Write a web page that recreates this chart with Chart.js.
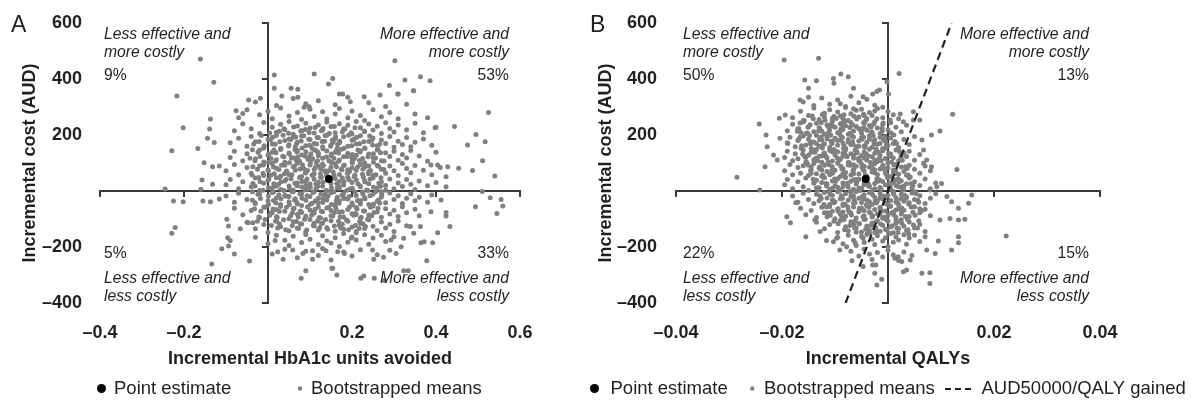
<!DOCTYPE html>
<html>
<head>
<meta charset="utf-8">
<script src="https://cdn.jsdelivr.net/npm/chart.js@4.4.1/dist/chart.umd.min.js"></script>
<style>
  body { margin: 0; background: #fff; width: 1193px; height: 401px; overflow: hidden; position: relative; }
  canvas { position: absolute; top: 0; }
  #chartA { left: 0; }
  #chartB { left: 590px; }
</style>
</head>
<body>
<canvas id="chartA" width="590" height="401"></canvas>
<canvas id="chartB" width="603" height="401"></canvas>
<script>
const FONT = "'Liberation Sans', Arial, Helvetica, sans-serif";
const INK = '#231f20';
const AXIS = '#3a3a3a';
const DOT = '#808080';

// axis ticks
const costTicks = [-400, -200, 0, 200, 400, 600];
const hba1cTicks = [-0.4, -0.2, 0, 0.2, 0.4, 0.6];
const qalyTicks = [-0.04, -0.02, 0, 0.02, 0.04];

// point estimates and threshold line
const pointEstimateA = [[0.145, 43]];
const pointEstimateB = [[-0.0042, 43]];
const wtpLine = [[-0.008, -400], [0.012, 600]];

// quadrant shares: upper-left, upper-right, lower-left, lower-right
const quadrantPctA = ['9%', '53%', '5%', '33%'];
const quadrantPctB = ['50%', '13%', '22%', '15%'];
const quadrantNames = [
  ['Less effective and', 'more costly'],
  ['More effective and', 'more costly'],
  ['Less effective and', 'less costly'],
  ['More effective and', 'less costly']
];

// bootstrapped means, panel A (HbA1c units avoided, cost AUD)
const bootA = [
  [-.161,471],[-.129,388],[-.217,339],[-.202,226],[-.137,257],[-.139,221],[-.144,188],[-.128,173],[-.167,152],[-.229,144],
  [-.152,101],[-.132,87],[-.116,89],[-.157,39],[-.132,24],[-.16,6],[-.245,7],[-.225,-36],[-.202,-38],[-.155,-36],
  [-.137,-38],[-.116,-29],[-.221,-130],[-.229,-151],[-.098,-101],[-.094,-125],[-.096,-167],[-.09,-177],[-.11,-206],[-.094,-196],
  [-.08,-225],[-.134,-261],[-.044,-250],[-.066,-135],[-.047,-113],[-.036,-113],[-.025,-108],[.017,-177],[.023,-217],[.036,-244],
  [.059,-211],[.083,-223],[.106,-213],[.106,-244],[.09,-285],[.079,-312],[.152,-276],[.138,-213],[.015,414],[.015,367],
  [.033,339],[.055,367],[.071,363],[.071,335],[.11,418],[.144,382],[.154,402],[-.018,331],[-.046,325],[-.076,287],[-.06,277],
  [.086,299],[.098,301],[.17,346],[.178,346],[.196,319],[.229,337],[.267,343],[.309,346],[.346,358],
  [.302,465],[.363,408],[.386,394],[.326,396],[.347,358],[.289,377],[.31,346],[.525,280],[.398,226],[.444,230],
  [.495,202],[.517,176],[.475,164],[.511,108],[.54,54],[.487,73],[.454,81],[.428,87],[.404,93],[.388,93],
  [.424,51],[.424,15],[.51,-2],[.529,-24],[.555,-30],[.559,-54],[.545,-80],[.494,-56],[.424,-77],[.424,-89],
  [.433,-127],[.404,-149],[.388,-74],[.412,-32],[.392,-185],[.372,-181],[.364,-185],[.378,-249],[.334,-285],[.323,-285],
  [.277,-320],[.253,-312],[.228,-304],[.221,-312],[.164,-300],[.275,-237],[.305,-223],[.317,-199],[.293,-175],[.249,-211],
  [.252,-244],[.363,-127],[.339,-127],[.347,-151],[.323,-169],[.232,-127],[.21,-145],[.198,-169],[.166,-217],[.182,-223],[.154,-276],
  [-.03,318],[.02,305],[.06,330],[.09,312],[.12,322],[.16,308],[.19,335],[.24,315],[.28,302],[.33,310],
  [-.07,262],[-.05,290],[-.02,272],[0,285],[.01,258],[.03,296],[.05,268],[.07,280],[.08,255],[.1,292],[.11,266],[.13,283],
  [.14,257],[.16,275],[.17,295],[.19,262],[.2,286],[.22,270],[.23,252],[.25,290],[.27,265],[.29,280],[.31,258],[.35,275],[.38,262],
  [-.08,215],[-.06,240],[-.04,222],[-.02,205],[-.01,245],[.01,228],[.02,210],[.03,238],[.04,219],[.05,248],[.06,203],[.07,232],
  [.08,215],[.09,242],[.1,225],[.11,207],[.12,236],[.13,218],[.14,246],[.15,230],[.16,208],[.17,240],[.18,221],[.19,235],
  [.2,204],[.21,248],[.22,226],[.23,212],[.24,239],[.25,218],[.26,231],[.27,205],[.28,244],[.29,223],[.3,211],[.31,236],
  [.33,219],[.35,242],[.37,208],[.4,228],
  [-.09,172],[-.07,188],[-.05,160],[-.04,195],[-.03,176],[-.01,155],[0,185],[.01,168],[.02,198],[.03,152],[.04,180],[.05,165],
  [.06,192],[.065,158],[.07,175],[.08,196],[.09,162],[.1,184],[.105,153],[.11,170],[.12,190],[.13,158],[.135,178],[.14,199],
  [.15,164],[.16,186],[.165,152],[.17,172],[.18,194],[.19,160],[.2,181],[.21,168],[.22,197],[.23,154],[.24,177],[.25,189],
  [.26,162],[.27,182],[.28,170],[.29,195],[.3,156],[.31,178],[.32,166],[.33,191],[.34,158],[.35,174],[.37,186],[.39,163],[.05,186],[.155,174],
  [-.09,120],[-.08,142],[-.06,108],[-.05,133],[-.03,115],[-.02,146],[-.01,104],[0,128],[.01,138],[.02,112],[.03,148],[.035,124],
  [.04,103],[.05,136],[.06,118],[.07,145],[.075,107],[.08,129],[.09,140],[.095,113],[.1,124],[.11,147],[.115,102],[.12,133],
  [.13,117],[.14,143],[.145,108],[.15,126],[.16,138],[.17,111],[.175,149],[.18,122],[.19,135],[.2,105],[.21,128],[.22,144],
  [.225,116],[.23,101],[.24,132],[.25,119],[.26,146],[.27,108],[.28,137],[.29,123],[.3,142],[.31,110],[.32,130],[.33,118],
  [.34,145],[.36,125],[.38,106],[.4,138],[.12,126],[.2,118],[.07,121],
  [-.1,72],[-.08,95],[-.07,58],[-.05,84],[-.04,63],[-.02,90],[-.01,55],[0,76],[.01,98],[.015,62],[.02,81],[.03,53],
  [.04,92],[.045,70],[.05,58],[.06,87],[.065,74],[.07,99],[.08,52],[.085,80],[.09,66],[.1,93],[.105,57],[.11,77],
  [.12,88],[.125,61],[.13,96],[.135,72],[.14,54],[.15,85],[.155,68],[.16,97],[.17,59],[.175,79],[.18,91],[.19,64],
  [.2,83],[.205,52],[.21,74],[.22,95],[.225,60],[.23,86],[.24,70],[.25,56],[.26,92],[.27,78],[.28,63],[.29,89],
  [.3,72],[.31,55],[.32,98],[.33,80],[.34,65],[.35,91],[.37,74],[.39,58],[.41,84],[.19,76],[.11,62],[.24,89],
  [-.1,22],[-.09,41],[-.07,8],[-.06,33],[-.04,15],[-.03,46],[-.02,2],[-.01,28],[0,38],[.01,12],[.02,47],[.025,24],
  [.03,5],[.04,36],[.05,18],[.055,44],[.06,3],[.07,29],[.075,48],[.08,14],[.09,35],[.095,6],[.1,25],[.11,42],
  [.115,10],[.12,31],[.125,49],[.13,17],[.14,2],[.15,27],[.16,45],[.165,12],[.17,34],[.18,21],[.19,48],[.195,7],
  [.2,30],[.21,40],[.22,15],[.23,37],[.235,4],[.24,26],[.25,46],[.26,11],[.27,33],[.28,20],[.29,43],[.3,8],
  [.31,29],[.32,16],[.33,41],[.34,24],[.35,5],[.36,36],[.38,19],[.4,30],[.09,20],[.17,9],[.28,3],
  [-.1,-18],[-.08,-40],[-.07,-8],[-.05,-30],[-.03,-45],[-.02,-12],[0,-35],[.01,-5],[.02,-25],[.03,-48],[.04,-15],[.05,-38],
  [.06,-3],[.065,-28],[.07,-46],[.08,-10],[.09,-33],[.1,-20],[.105,-44],[.11,-2],[.12,-26],[.13,-41],[.135,-13],[.14,-32],
  [.15,-6],[.16,-47],[.165,-22],[.17,-36],[.18,-9],[.19,-29],[.2,-43],[.21,-16],[.22,-34],[.225,-4],[.23,-24],[.24,-48],
  [.25,-12],[.26,-37],[.27,-21],[.28,-42],[.29,-7],[.3,-30],[.31,-17],[.32,-45],[.33,-26],[.34,-10],[.35,-35],[.36,-22],
  [.38,-40],[.39,-14],[.05,-20],[.14,-18],[.22,-46],[.27,-3],[.18,-24],
  [-.08,-62],[-.06,-85],[-.04,-70],[-.02,-95],[-.01,-58],[.01,-78],[.02,-92],[.03,-55],[.04,-72],[.05,-99],[.06,-64],[.07,-83],
  [.08,-52],[.09,-90],[.1,-68],[.11,-79],[.12,-57],[.125,-96],[.13,-74],[.14,-61],[.15,-88],[.16,-53],[.17,-76],[.18,-93],
  [.19,-66],[.2,-81],[.21,-59],[.22,-97],[.23,-71],[.24,-86],[.25,-54],[.26,-75],[.27,-94],[.28,-63],[.29,-82],[.3,-69],
  [.31,-91],[.32,-56],[.33,-78],[.35,-65],[.36,-88],[.15,-70],[.08,-77],[.21,-84],[.02,-66],
  [-.05,-112],[-.03,-135],[-.01,-120],[0,-148],[.02,-105],[.03,-128],[.05,-142],[.06,-110],[.07,-133],[.08,-118],[.09,-146],[.1,-102],
  [.11,-125],[.12,-139],[.13,-114],[.14,-131],[.15,-106],[.16,-144],[.17,-122],[.18,-137],[.19,-108],[.2,-129],[.21,-149],[.22,-116],
  [.23,-134],[.24,-103],[.25,-126],[.26,-141],[.27,-111],[.28,-132],[.29,-119],[.3,-145],[.31,-107],[.33,-124],[.11,-115],
  [-.03,-165],[0,-188],[.02,-158],[.04,-176],[.05,-195],[.06,-162],[.08,-184],[.09,-155],[.1,-172],[.12,-191],[.13,-160],[.14,-179],
  [.16,-167],[.17,-198],[.18,-152],[.19,-183],[.2,-164],[.21,-175],[.23,-156],[.24,-190],[.25,-168],[.27,-158],[.28,-180],[.3,-163],[.15,-186],
  [.01,-225],[.04,-208],[.07,-238],[.09,-215],[.12,-230],[.13,-205],[.15,-246],[.18,-218],[.2,-232],[.22,-210],[.26,-228],[.29,-212],
  [.038,222],[.061,229],[.089,220],[.112,227],[.131,223],[.158,230],[.183,221],[.207,226],
  [.004,207],[.027,213],[.049,206],[.078,214],[.098,209],[.127,215],[.146,205],[.177,212],[.198,208],[.229,214],
  [-.016,198],[.011,192],[.036,199],[.066,193],[.085,197],[.117,191],[.136,198],[.161,194],[.192,199],[.211,192],[.242,196],
  [-.021,177],[.006,183],[.028,176],[.054,184],[.079,179],[.097,185],[.129,177],[.153,182],[.171,178],[.204,184],[.228,176],[.247,181],
  [-.034,168],[-.009,162],[.017,167],[.049,161],[.068,169],[.099,163],[.116,168],[.149,160],[.166,166],[.199,162],[.218,169],[.249,164],[.266,167],
  [-.037,147],[-.011,153],[.014,146],[.031,152],[.064,148],[.081,154],[.114,145],[.131,151],[.164,147],[.181,153],[.214,146],[.231,152],[.262,148],
  [-.024,138],[.002,132],[.019,137],[.051,131],[.069,139],[.102,133],[.119,138],[.151,132],[.168,136],[.201,130],[.219,139],[.251,133],[.268,137],
  [-.043,117],[-.019,123],[.007,116],[.038,122],[.056,118],[.089,124],[.106,115],[.139,121],[.157,117],[.189,123],[.206,116],[.238,122],[.256,118],
  [-.031,108],[.001,102],[.018,107],[.051,101],[.068,109],[.101,103],[.118,108],[.151,102],[.168,106],[.201,100],[.218,109],[.251,103],[.276,107],
  [-.036,87],[-.011,93],[.013,86],[.032,92],[.063,88],[.082,94],[.113,85],[.132,91],[.163,87],[.182,93],[.213,86],[.232,92],[.263,88],
  [-.025,78],[.001,72],[.026,77],[.044,71],[.076,79],[.094,73],[.126,78],[.144,72],[.176,76],[.194,70],[.226,79],[.244,73],[.276,77],
  [-.038,57],[-.012,63],[.007,56],[.039,62],[.057,58],[.089,64],[.107,55],[.139,61],[.157,57],[.189,63],[.207,56],[.239,62],[.257,58],
  [-.022,48],[.002,42],[.027,47],[.043,41],[.077,49],[.093,43],[.127,48],[.143,42],[.177,46],[.193,40],[.227,49],[.243,43],[.269,47],
  [-.036,27],[-.019,33],[.014,26],[.031,32],[.064,28],[.081,34],[.114,25],[.131,31],[.164,27],[.181,33],[.214,26],[.231,32],[.264,28],
  [-.031,18],[.001,12],[.019,17],[.051,11],[.069,19],[.101,13],[.119,18],[.151,12],[.169,16],[.201,10],[.219,19],[.251,13],[.268,17],
  [-.037,-3],[-.012,3],[.013,-4],[.038,2],[.057,-2],[.088,4],[.107,-5],[.138,1],[.157,-3],[.188,3],[.207,-4],[.238,2],[.257,-2],
  [-.024,-12],[.001,-18],[.026,-13],[.043,-19],[.076,-11],[.093,-17],[.126,-12],[.143,-18],[.176,-14],[.193,-20],[.226,-11],[.243,-17],[.271,-13],
  [-.037,-33],[-.018,-27],[.013,-34],[.031,-28],[.063,-32],[.081,-26],[.113,-35],[.131,-29],[.163,-33],[.181,-27],[.213,-34],[.231,-28],[.263,-32],
  [-.031,-42],[.001,-48],[.019,-43],[.051,-49],[.069,-41],[.101,-47],[.119,-42],[.151,-48],[.169,-44],[.201,-50],[.219,-41],[.251,-47],[.266,-43],
  [-.032,-63],[-.006,-57],[.012,-64],[.044,-58],[.062,-62],[.094,-56],[.112,-65],[.144,-59],[.162,-63],[.194,-57],[.212,-64],[.244,-58],[.262,-62],
  [-.017,-72],[.008,-78],[.027,-73],[.058,-79],[.077,-71],[.108,-77],[.127,-72],[.158,-78],[.177,-74],[.208,-80],[.227,-71],[.252,-77],
  [-.022,-93],[.004,-87],[.022,-94],[.054,-88],[.072,-92],[.104,-86],[.122,-95],[.154,-89],[.172,-93],[.204,-87],[.222,-94],[.247,-88],
  [-.007,-102],[.018,-108],[.037,-103],[.068,-109],[.087,-101],[.118,-107],[.137,-102],[.168,-108],[.187,-104],[.218,-110],[.237,-101],
  [.008,-123],[.027,-117],[.058,-124],[.077,-118],[.108,-122],[.127,-116],[.158,-125],[.177,-119],[.208,-123],[.226,-117],
  [.023,-132],[.042,-138],[.073,-133],[.092,-139],[.123,-131],[.142,-137],[.173,-132],[.192,-138],[.217,-134]
];

// bootstrapped means, panel B (QALYs, cost AUD)
const bootB = [
  [-.0196,468],[-.0131,474],[-.0157,396],[-.0135,394],[-.0103,402],[-.0089,418],[-.0075,408],[-.015,367],[-.0102,385],[-.0065,367],
  [-.0029,346],[-.0016,361],[-.0166,325],[-.0047,337],[-.0205,260],[-.0194,271],[-.0243,239],[-.023,200],[-.0228,158],[-.0232,87],
  [-.0216,129],[-.0209,111],[-.0204,188],[-.0189,170],[-.0285,49],[-.0242,4],[-.0174,-42],[-.0191,-92],[-.0184,-113],[-.0155,-163],
  [-.0138,-104],[-.0128,-145],[-.0116,-177],[-.0097,-169],[-.0103,-181],[-.0091,-211],[-.0078,-199],[-.0062,-185],[-.0047,-169],[-.0068,-249],
  [-.0047,-270],[-.0029,-264],[-.0025,-294],[-.0021,-336],
  [.0021,420],[-.0002,390],[.0001,346],[-.0021,355],[-.001,299],[.0004,254],[.0122,274],[.0048,283],[.0023,275],[.0029,247],
  [.0048,254],[.006,254],[.0098,214],[.0082,200],[.0064,182],[.0067,146],[.0073,111],[.0082,87],[.0067,99],[.013,77],
  [.0101,27],[.0092,15],[.0079,4],[.0111,-20],[.012,-38],[.0152,-44],[.0158,-14],[.0133,-62],[.0145,-101],[.0133,-104],
  [.0117,-98],[.0098,-104],[.0223,-161],[.0133,-163],[.0133,-185],[.012,-211],[.0095,-179],[.0089,-223],[.0073,-211],[.0064,-294],
  [.0079,-292],[.0079,-330],[.0042,-246],[.0026,-252],[.0019,-235],[.0013,-240],[.0035,-282],[.0029,-288],[-.0023,-264],[-.0012,-315],
  [-.016,318],[-.014,305],[-.0125,332],[-.011,310],[-.0095,325],[-.008,302],[-.007,338],[-.0055,315],[-.004,328],[-.0025,306],[-.015,335],[-.009,312],
  [-.018,262],[-.0165,285],[-.015,270],[-.014,296],[-.013,255],[-.012,278],[-.011,290],[-.0105,260],[-.0095,282],[-.009,268],
  [-.008,298],[-.0075,252],[-.007,276],[-.006,288],[-.0055,264],[-.005,292],[-.004,258],[-.0035,280],[-.003,270],[-.002,295],
  [-.001,262],[0,284],[.001,272],[.002,258],[-.012,265],[-.0085,258],[-.0045,270],[-.016,252],[-.0065,294],[-.0025,286],
  [-.019,215],[-.018,238],[-.017,222],[-.016,246],[-.0155,205],[-.015,230],[-.014,212],[-.0135,242],[-.013,226],[-.012,204],
  [-.0115,236],[-.011,218],[-.0105,248],[-.01,228],[-.0095,208],[-.009,240],[-.0085,220],[-.008,233],[-.0075,203],[-.007,245],
  [-.0065,214],[-.006,230],[-.0055,222],[-.005,206],[-.0045,241],[-.004,217],[-.0035,234],[-.003,210],[-.0025,247],[-.002,225],
  [-.0015,205],[-.001,238],[0,219],[.0005,244],[.0015,228],[.0025,212],[.0035,235],[-.0125,214],[-.0085,236],[-.0045,225],[-.0105,232],[-.0165,210],
  [-.019,172],[-.0185,192],[-.0175,158],[-.017,180],[-.016,196],[-.0155,164],[-.015,185],[-.0145,152],[-.014,175],[-.0135,198],
  [-.013,160],[-.0125,182],[-.012,168],[-.0115,194],[-.011,155],[-.0105,177],[-.01,188],[-.0095,163],[-.009,199],[-.0085,171],
  [-.008,153],[-.0075,184],[-.007,166],[-.0065,193],[-.006,158],[-.0055,179],[-.005,190],[-.0045,161],[-.004,174],[-.0035,197],
  [-.003,156],[-.0025,183],[-.002,167],[-.0015,192],[-.001,152],[-.0005,178],[0,163],[.0005,189],[.001,170],[.002,155],
  [.003,184],[.004,166],[.005,195],[-.0135,170],[-.0095,180],[-.0055,160],[-.0115,186],[-.0075,174],[-.0035,185],[-.0015,170],
  [-.0195,120],[-.019,142],[-.018,108],[-.0175,133],[-.017,115],[-.016,146],[-.0155,104],[-.015,128],[-.0145,138],[-.014,112],
  [-.0135,148],[-.013,124],[-.0125,103],[-.012,136],[-.0115,118],[-.011,145],[-.0105,107],[-.01,129],[-.0095,140],[-.009,113],
  [-.0085,124],[-.008,147],[-.0075,102],[-.007,133],[-.0065,117],[-.006,143],[-.0055,108],[-.005,126],[-.0045,138],[-.004,111],
  [-.0035,149],[-.003,122],[-.0025,135],[-.002,105],[-.0015,128],[-.001,144],[-.0005,116],[0,101],[.0005,132],[.001,119],
  [.0015,146],[.002,108],[.003,137],[.0035,123],[.004,142],[.005,110],[.006,130],[-.0125,125],[-.0085,135],[-.0045,118],
  [-.0105,140],[-.0065,128],[-.0025,112],[-.0155,120],[.0025,125],
  [-.0195,72],[-.0185,95],[-.018,58],[-.017,84],[-.0165,63],[-.016,90],[-.015,55],[-.0145,76],[-.014,98],[-.0135,62],
  [-.013,81],[-.0125,53],[-.012,92],[-.0115,70],[-.011,58],[-.0105,87],[-.01,74],[-.0095,99],[-.009,52],[-.0085,80],
  [-.008,66],[-.0075,93],[-.007,57],[-.0065,77],[-.006,88],[-.0055,61],[-.005,96],[-.0045,72],[-.004,54],[-.0035,85],
  [-.003,68],[-.0025,97],[-.002,59],[-.0015,79],[-.001,91],[-.0005,64],[0,83],[.0005,52],[.001,74],[.0015,95],
  [.002,60],[.0025,86],[.003,70],[.0035,56],[.004,92],[.005,78],[.006,63],[.007,89],[.008,72],[-.0125,75],
  [-.0085,62],[-.0045,88],[-.0025,76],[-.0065,94],[-.0105,64],[-.0145,86],[.001,66],[-.003,82],
  [-.0195,22],[-.019,41],[-.018,8],[-.017,33],[-.016,15],[-.0155,46],[-.015,2],[-.014,28],[-.0135,38],[-.013,12],
  [-.012,47],[-.0115,24],[-.011,5],[-.0105,36],[-.01,18],[-.0095,44],[-.009,3],[-.0085,29],[-.008,48],[-.0075,14],
  [-.007,35],[-.0065,6],[-.006,25],[-.0055,42],[-.005,10],[-.0045,31],[-.004,49],[-.0035,17],[-.003,2],[-.0025,27],
  [-.002,45],[-.0015,12],[-.001,34],[-.0005,21],[0,48],[.0005,7],[.001,30],[.0015,40],[.002,15],[.0025,37],
  [.003,4],[.0035,26],[.004,46],[.0045,11],[.005,33],[.006,20],[.007,43],[.008,8],[.009,29],[-.0125,30],
  [-.0085,15],[-.0045,22],[-.0065,40],[-.0105,10],[.0015,20],[-.0025,8],[-.0015,38],[.003,18],
  [-.018,-18],[-.017,-40],[-.016,-8],[-.015,-30],[-.014,-45],[-.0135,-12],[-.013,-35],[-.012,-5],[-.0115,-25],[-.011,-48],
  [-.0105,-15],[-.01,-38],[-.0095,-3],[-.009,-28],[-.0085,-46],[-.008,-10],[-.0075,-33],[-.007,-20],[-.0065,-44],[-.006,-2],
  [-.0055,-26],[-.005,-41],[-.0045,-13],[-.004,-32],[-.0035,-6],[-.003,-47],[-.0025,-22],[-.002,-36],[-.0015,-9],[-.001,-29],
  [-.0005,-43],[0,-16],[.0005,-34],[.001,-4],[.0015,-24],[.002,-48],[.0025,-12],[.003,-37],[.0035,-21],[.004,-42],
  [.0045,-7],[.005,-30],[.006,-17],[.007,-45],[.008,-26],[.009,-10],[-.0065,-18],[-.0035,-38],[-.0015,-24],[.0015,-40],[-.0105,-32],[.0025,-28],
  [-.0165,-62],[-.0155,-85],[-.0145,-70],[-.0135,-95],[-.0125,-58],[-.012,-78],[-.0115,-92],[-.011,-55],[-.0105,-72],[-.01,-99],
  [-.0095,-64],[-.009,-83],[-.0085,-52],[-.008,-90],[-.0075,-68],[-.007,-79],[-.0065,-57],[-.006,-96],[-.0055,-74],[-.005,-61],
  [-.0045,-88],[-.004,-53],[-.0035,-76],[-.003,-93],[-.0025,-66],[-.002,-81],[-.0015,-59],[-.001,-97],[-.0005,-71],[0,-86],
  [.0005,-54],[.001,-75],[.0015,-94],[.002,-63],[.0025,-82],[.003,-69],[.004,-91],[.005,-56],[.006,-78],[.007,-65],
  [.008,-88],[-.0045,-70],[-.0015,-84],[.0015,-68],[-.0085,-75],
  [-.0135,-112],[-.012,-135],[-.011,-120],[-.0095,-148],[-.009,-105],[-.008,-128],[-.0075,-142],[-.007,-110],[-.006,-133],[-.0055,-118],
  [-.005,-146],[-.0045,-102],[-.004,-125],[-.0035,-139],[-.003,-114],[-.0025,-131],[-.002,-106],[-.0015,-144],[-.001,-122],[-.0005,-137],
  [0,-108],[.0005,-129],[.001,-149],[.0015,-116],[.002,-134],[.0025,-103],[.003,-126],[.0035,-141],[.004,-111],[.005,-132],
  [.006,-119],[.007,-145],[-.0065,-120],[-.0025,-148],[.0015,-105],
  [-.0095,-165],[-.0085,-188],[-.0075,-158],[-.0065,-176],[-.006,-195],[-.005,-162],[-.0045,-184],[-.004,-155],[-.003,-172],[-.0025,-191],
  [-.002,-160],[-.001,-179],[-.0005,-167],[0,-198],[.0005,-152],[.001,-183],[.0015,-164],[.002,-175],[.003,-156],[.0035,-190],
  [.004,-168],[.005,-158],[.006,-180],[.007,-163],[-.0035,-150],
  [-.007,-215],[-.0055,-232],[-.0045,-208],[-.003,-245],[-.002,-220],[-.001,-236],[0,-212],[.001,-228],[.002,-248],[.003,-218],[.0045,-230],[-.0035,-225],
  [-.0143,268],[-.0124,273],[-.0102,266],[-.0083,272],[-.0064,267],[-.0046,274],
  [-.0158,252],[-.0141,258],[-.0119,253],[-.0098,259],[-.0081,251],[-.0059,257],[-.0042,252],[-.0021,258],
  [-.0166,243],[-.0147,237],[-.0126,244],[-.0107,238],[-.0086,242],[-.0067,236],[-.0046,245],[-.0027,239],[-.0009,243],
  [-.0168,222],[-.0151,228],[-.0129,223],[-.0112,229],[-.0089,221],[-.0072,227],[-.0049,222],[-.0032,228],[-.0011,224],
  [-.0171,213],[-.0152,207],[-.0131,214],[-.0112,208],[-.0091,212],[-.0072,206],[-.0051,215],[-.0032,209],[-.0011,213],[.0006,207],
  [-.0166,192],[-.0148,198],[-.0126,193],[-.0108,199],[-.0086,191],[-.0068,197],[-.0046,192],[-.0028,198],[-.0006,194],[.0011,200],
  [-.0169,183],[-.0147,177],[-.0129,184],[-.0107,178],[-.0089,182],[-.0067,176],[-.0049,185],[-.0027,179],[-.0009,183],[.0013,177],
  [-.0163,162],[-.0146,168],[-.0123,163],[-.0106,169],[-.0083,161],[-.0066,167],[-.0043,162],[-.0026,168],[-.0003,164],[.0016,170],
  [-.0164,153],[-.0142,147],[-.0124,154],[-.0102,148],[-.0084,152],[-.0062,146],[-.0044,155],[-.0022,149],[-.0004,153],[.0018,147],
  [-.0161,132],[-.0138,138],[-.0121,133],[-.0098,139],[-.0081,131],[-.0058,137],[-.0041,132],[-.0018,138],[.0001,134],[.0022,140],
  [-.0157,123],[-.0136,117],[-.0117,124],[-.0096,118],[-.0077,122],[-.0056,116],[-.0037,125],[-.0016,119],[.0003,123],[.0024,117],
  [-.0153,102],[-.0133,108],[-.0113,103],[-.0093,109],[-.0073,101],[-.0053,107],[-.0033,102],[-.0013,108],[.0007,104],[.0027,110],
  [-.0151,93],[-.0129,87],[-.0111,94],[-.0089,88],[-.0071,92],[-.0049,86],[-.0031,95],[-.0009,89],[.0011,93],[.0033,87],
  [-.0146,72],[-.0127,78],[-.0106,73],[-.0087,79],[-.0066,71],[-.0047,77],[-.0026,72],[-.0007,78],[.0014,74],[.0036,80],
  [-.0145,63],[-.0123,57],[-.0105,64],[-.0083,58],[-.0065,62],[-.0043,56],[-.0025,65],[-.0003,59],[.0015,63],[.0038,57],
  [-.0141,42],[-.0121,48],[-.0101,43],[-.0081,49],[-.0061,41],[-.0041,47],[-.0021,42],[-.0001,48],[.0019,44],[.0042,50],
  [-.0139,33],[-.0117,27],[-.0099,34],[-.0077,28],[-.0059,32],[-.0037,26],[-.0019,35],[.0003,29],[.0021,33],[.0044,27],
  [-.0135,12],[-.0116,18],[-.0095,13],[-.0076,19],[-.0055,11],[-.0036,17],[-.0015,12],[.0004,18],[.0025,14],[.0047,20],
  [-.0133,3],[-.0111,-3],[-.0093,4],[-.0071,-2],[-.0053,2],[-.0031,-4],[-.0013,5],[.0009,-1],[.0027,3],[.0051,-3],
  [-.0128,-18],[-.0109,-12],[-.0088,-17],[-.0069,-11],[-.0048,-19],[-.0029,-13],[-.0008,-18],[.0011,-12],[.0032,-16],[.0053,-10],
  [-.0126,-27],[-.0104,-33],[-.0086,-26],[-.0064,-32],[-.0046,-28],[-.0024,-34],[-.0006,-25],[.0016,-31],[.0034,-27],[.0056,-33],
  [-.0121,-48],[-.0102,-42],[-.0081,-47],[-.0062,-41],[-.0041,-49],[-.0022,-43],[-.0001,-48],[.0018,-42],[.0039,-46],[.0058,-40],
  [-.0116,-57],[-.0094,-63],[-.0076,-56],[-.0054,-62],[-.0036,-58],[-.0014,-64],[.0004,-55],[.0026,-61],[.0044,-57],[.006,-63],
  [-.0113,-78],[-.0094,-72],[-.0073,-77],[-.0054,-71],[-.0033,-79],[-.0014,-73],[.0007,-78],[.0026,-72],[.0047,-76],[.0064,-70],
  [-.0109,-87],[-.0087,-93],[-.0069,-86],[-.0047,-92],[-.0029,-88],[-.0007,-94],[.0011,-85],[.0033,-91],[.0051,-87],
  [-.0102,-108],[-.0083,-102],[-.0062,-107],[-.0043,-101],[-.0022,-109],[-.0003,-103],[.0018,-108],[.0037,-102],[.0058,-106],
  [-.0094,-117],[-.0072,-123],[-.0054,-116],[-.0032,-122],[-.0014,-118],[.0008,-124],[.0026,-115],[.0048,-121],
  [-.0082,-138],[-.0063,-132],[-.0042,-137],[-.0023,-131],[-.0002,-139],[.0017,-133],[.0038,-138],[.0056,-132],
  [-.006,-147],[-.0039,-153],[-.0021,-146],[.0001,-152],[.0019,-148],[.0039,-154]
];

const toXY = arr => arr.map(p => ({ x: p[0], y: p[1] }));
const dash = v => (v === 0 ? '' : String(v).replace('-', '\u2013'));

// crossing axes through the origin, drawn under the points
const crossAxes = {
  id: 'crossAxes',
  beforeDatasetsDraw(chart) {
    const { ctx } = chart;
    const xs = chart.scales.x, ys = chart.scales.y;
    const x0 = xs.getPixelForValue(0), y0 = ys.getPixelForValue(0);
    ctx.save();
    ctx.strokeStyle = AXIS;
    ctx.lineWidth = 2;
    ctx.lineCap = 'square';
    ctx.beginPath();
    ctx.moveTo(xs.left, y0); ctx.lineTo(xs.right, y0);
    ctx.moveTo(x0, ys.top); ctx.lineTo(x0, ys.bottom);
    xs.ticks.forEach(t => {
      if (t.value === 0) return;
      const p = xs.getPixelForValue(t.value);
      ctx.moveTo(p, y0); ctx.lineTo(p, y0 + 5);
    });
    ys.ticks.forEach(t => {
      if (t.value === 0) return;
      const p = ys.getPixelForValue(t.value);
      ctx.moveTo(x0 - 5, p); ctx.lineTo(x0, p);
    });
    ctx.stroke();
    ctx.restore();
  }
};

// quadrant notes, panel letter and legend
const notes = {
  id: 'notes',
  afterDraw(chart, args, o) {
    const { ctx } = chart;
    const a = chart.chartArea;
    const L = a.left + o.inset, R = a.right - 11;
    ctx.save();
    ctx.fillStyle = INK;
    ctx.textBaseline = 'alphabetic';

    ctx.font = `italic 15.7px ${FONT}`;
    const spots = [[L, 'left', a.top + 16], [R, 'right', a.top + 16], [L, 'left', a.bottom - 20], [R, 'right', a.bottom - 20]];
    spots.forEach(([x, align, y], i) => {
      ctx.textAlign = align;
      ctx.fillText(quadrantNames[i][0], x, y);
      ctx.fillText(quadrantNames[i][1], x, y + 18);
    });
    ctx.font = `15.7px ${FONT}`;
    const pctY = [a.top + 57, a.top + 57, a.bottom - 45, a.bottom - 45];
    spots.forEach(([x, align], i) => {
      ctx.textAlign = align;
      ctx.fillText(o.pct[i], x, pctY[i]);
    });

    ctx.textAlign = 'left';
    ctx.font = `23px ${FONT}`;
    ctx.fillText(o.letter, o.letterX, 31.5);

    ctx.font = `18.5px ${FONT}`;
    o.legend.forEach(item => {
      if (item.kind === 'dash') {
        ctx.save();
        ctx.strokeStyle = INK;
        ctx.lineWidth = 2;
        ctx.setLineDash([6, 4]);
        ctx.beginPath();
        ctx.moveTo(item.x, 389); ctx.lineTo(item.x + 26, 389);
        ctx.stroke();
        ctx.restore();
      } else {
        ctx.fillStyle = item.kind === 'big' ? '#000' : DOT;
        ctx.beginPath();
        ctx.arc(item.x, 388.5, item.kind === 'big' ? 4.5 : 2.2, 0, Math.PI * 2);
        ctx.fill();
      }
      ctx.fillStyle = INK;
      ctx.fillText(item.text, item.tx, 394);
    });
    ctx.restore();
  }
};

function makePanel(id, cfg) {
  const tickFont = { family: FONT, size: 18, weight: 'bold' };
  return new Chart(document.getElementById(id), {
    type: 'scatter',
    data: {
      datasets: [
        { data: toXY(cfg.estimate), pointRadius: 4, pointHoverRadius: 4, pointBackgroundColor: '#000', pointBorderWidth: 0 },
        ...(cfg.line ? [{ data: toXY(cfg.line), showLine: true, pointRadius: 0, borderColor: INK, borderWidth: 2.2, borderDash: [8, 5] }] : []),
        { data: toXY(cfg.boot), pointRadius: 2.5, pointHoverRadius: 2.5, pointBackgroundColor: DOT, pointBorderWidth: 0 }
      ]
    },
    options: {
      responsive: false,
      animation: false,
      layout: { padding: { left: 0, top: 23, right: cfg.padRight, bottom: 30 } },
      plugins: {
        legend: { display: false },
        tooltip: { enabled: false },
        notes: cfg.notes
      },
      scales: {
        x: {
          type: 'linear',
          min: cfg.xTicks[0],
          max: cfg.xTicks[cfg.xTicks.length - 1],
          afterBuildTicks: s => { s.ticks = cfg.xTicks.map(v => ({ value: v })); },
          afterFit: s => { s.height = 68; },
          grid: { display: false },
          border: { display: false },
          ticks: { padding: 11, color: INK, font: tickFont, maxRotation: 0, autoSkip: false, callback: v => dash(v) },
          title: { display: true, text: cfg.xTitle, color: INK, font: tickFont, padding: { top: 0, bottom: 1 } }
        },
        y: {
          type: 'linear',
          min: costTicks[0],
          max: costTicks[costTicks.length - 1],
          afterBuildTicks: s => { s.ticks = costTicks.map(v => ({ value: v })); },
          afterFit: s => { s.width = cfg.yWidth; },
          grid: { display: false },
          border: { display: false },
          ticks: { padding: cfg.yPad, color: INK, font: tickFont, callback: v => dash(v) },
          title: { display: true, text: 'Incremental cost (AUD)', color: INK, font: tickFont, padding: { top: cfg.yTitlePad, bottom: 0 } }
        }
      }
    },
    plugins: [crossAxes, notes]
  });
}

makePanel('chartA', {
  estimate: pointEstimateA,
  boot: bootA,
  xTicks: hba1cTicks,
  xTitle: 'Incremental HbA1c units avoided',
  yWidth: 100, yPad: 10, yTitlePad: 19, padRight: 70,
  notes: {
    inset: 4, pct: quadrantPctA, letter: 'A', letterX: 11,
    legend: [
      { kind: 'big', x: 101.5, tx: 114, text: 'Point estimate' },
      { kind: 'small', x: 300, tx: 311, text: 'Bootstrapped means' }
    ]
  }
});

makePanel('chartB', {
  estimate: pointEstimateB,
  line: wtpLine,
  boot: bootB,
  xTicks: qalyTicks,
  xTitle: 'Incremental QALYs',
  yWidth: 86, yPad: 11, yTitlePad: 5, padRight: 93,
  notes: {
    inset: 7, pct: quadrantPctB, letter: 'B', letterX: 0,
    legend: [
      { kind: 'big', x: 4.5, tx: 20.5, text: 'Point estimate' },
      { kind: 'small', x: 162.3, tx: 174, text: 'Bootstrapped means' },
      { kind: 'dash', x: 355, tx: 391.5, text: 'AUD50000/QALY gained' }
    ]
  }
});
</script>
</body>
</html>
